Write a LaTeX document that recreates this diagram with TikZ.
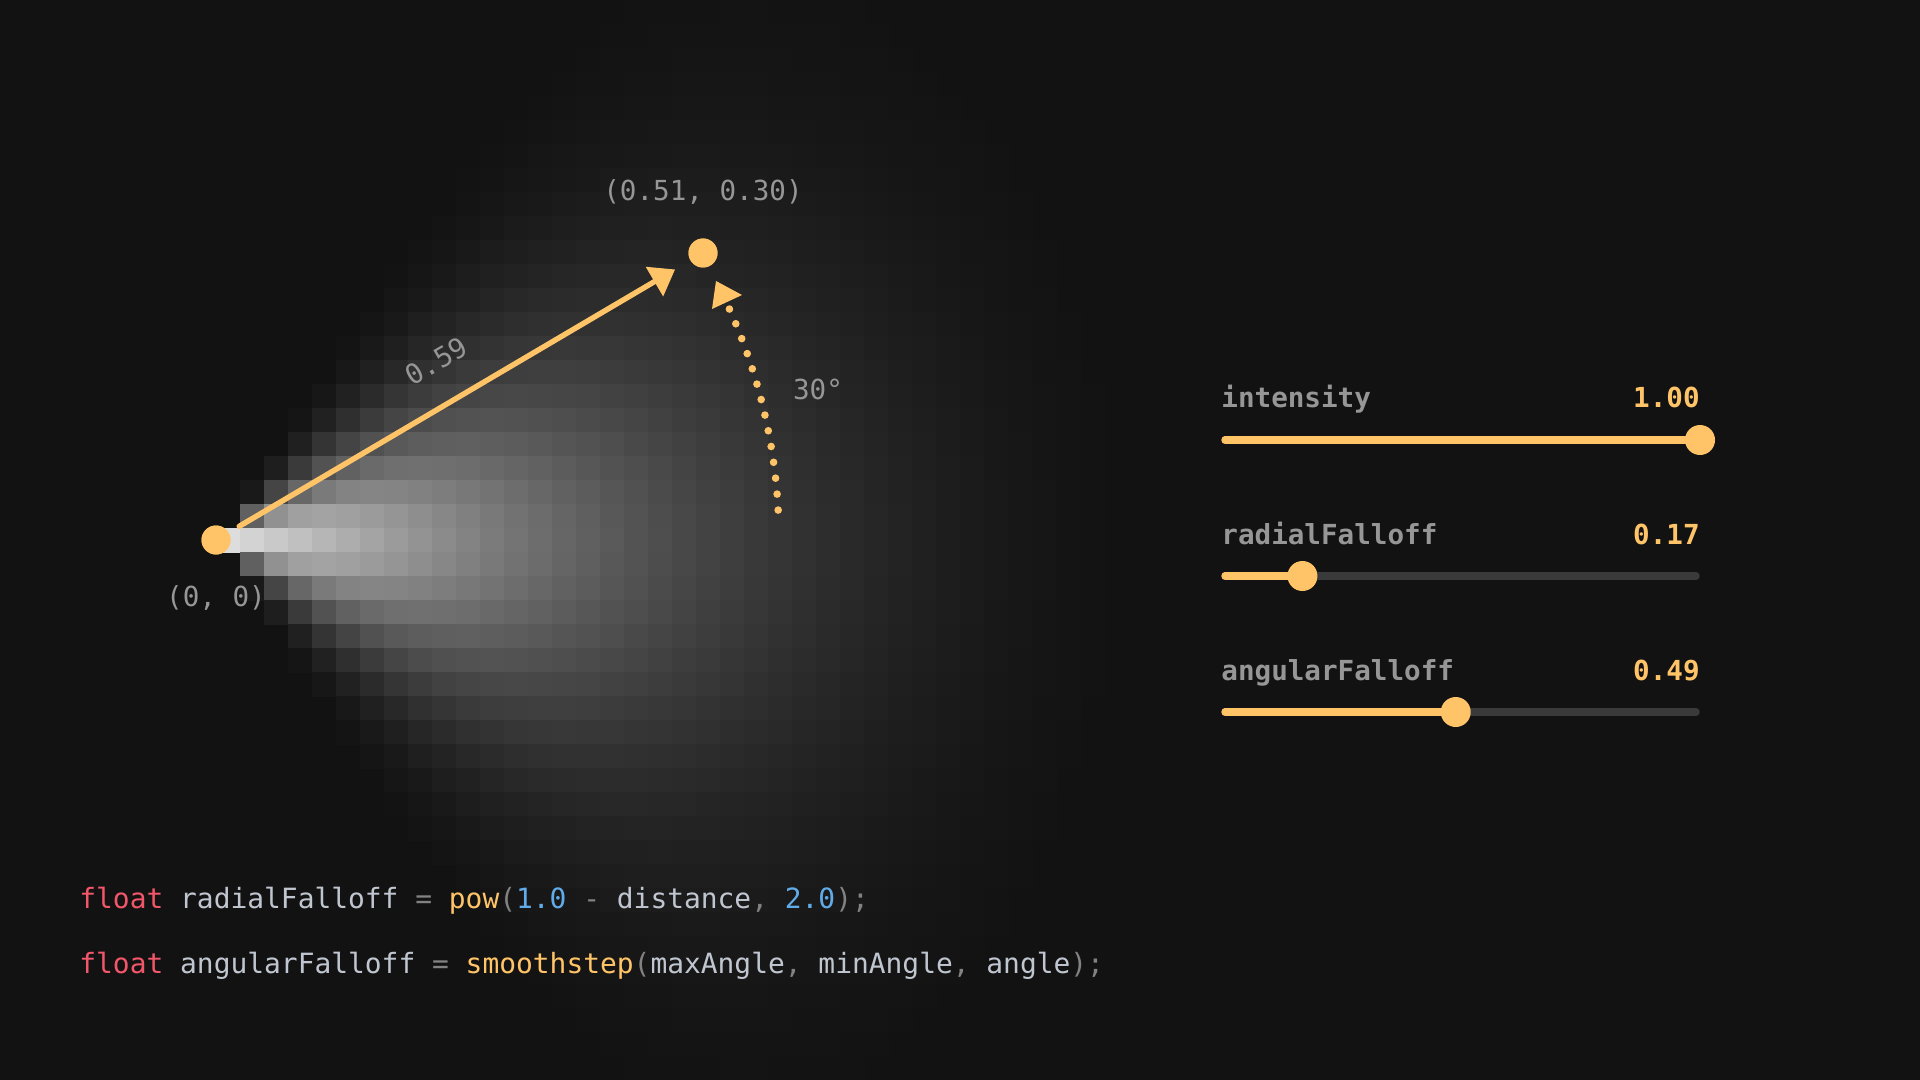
\documentclass[tikz,border=0pt]{standalone}
\usepackage{fontspec}
\setmonofont{DejaVu Sans Mono}
\usepackage{xcolor}
\usetikzlibrary{arrows.meta}
\definecolor{bgdark}{RGB}{18, 18, 18}
\definecolor{accentamber}{RGB}{255, 196, 104}
\definecolor{trackgray}{RGB}{58, 58, 58}
\definecolor{labelgray}{RGB}{150, 150, 150}
\definecolor{codetext}{RGB}{192, 198, 208}
\definecolor{codekw}{RGB}{242, 86, 106}
\definecolor{codenum}{RGB}{97, 172, 232}
\definecolor{codepunct}{RGB}{130, 130, 130}

% code tokens
\newcommand{\tokkw}[1]{\textcolor{codekw}{#1}}
\newcommand{\tokfn}[1]{\textcolor{accentamber}{#1}}
\newcommand{\toknum}[1]{\textcolor{codenum}{#1}}
\newcommand{\tokpun}[1]{\textcolor{codepunct}{#1}}

\begin{document}
\begin{tikzpicture}[x=0.5pt,y=-0.5pt,
    dot/.style={circle,fill=accentamber,inner sep=0pt,minimum size=14.5pt},
    knob/.style={circle,fill=accentamber,inner sep=0pt,minimum size=15pt},
    coordlbl/.style={text=labelgray,font=\ttfamily\fontsize{13.8pt}{16pt}\selectfont,inner sep=0pt},
    sliderlbl/.style={text=labelgray,font=\ttfamily\bfseries\fontsize{13.8pt}{16pt}\selectfont,inner sep=0pt},
    sliderval/.style={sliderlbl,text=accentamber},
    codeline/.style={text=codetext,font=\ttfamily\fontsize{13.95pt}{16pt}\selectfont,inner sep=0pt,anchor=base west},
    vec/.style={accentamber,line width=2.7pt,line cap=round,shorten <=6pt,shorten >=8.75pt,-{Triangle[length=12pt,width=16.5pt]}},
    dotarc/.style={accentamber,line width=3.8pt,line cap=round,dash pattern=on 0pt off 8pt},
    trackbg/.style={trackgray,line width=3.7pt,line cap=round},
    trackfill/.style={accentamber,line width=3.7pt,line cap=round}]

    \useasboundingbox (0,0) rectangle (1920,1080);
    \fill[bgdark] (0,0) rectangle (1920,1080);

    % Pixel grid of the light: intensity * radial * angular falloff
    \foreach \col in {9,...,49} {
        \foreach \row in {0,...,44} {
            \pgfmathsetmacro{\cx}{24*\col+12-216}
            \pgfmathsetmacro{\cy}{528-24*\row}
            \pgfmathsetmacro{\dist}{min(veclen(\cx,\cy)/955,1)}
            \pgfmathsetmacro{\ang}{abs(atan2(\cy,\cx))}
            \pgfmathsetmacro{\tcl}{max(0,min(1,(60-\ang)/60))}
            \pgfmathsetmacro{\glow}{88*(1-\dist)*(1-\dist)*\tcl*\tcl*(3-2*\tcl)}
            \ifdim\glow pt>0.4pt\relax
                \fill[white!\glow!bgdark] (24*\col,24*\row) rectangle ++(24.5,24.5);
            \fi
        }
    }

    % Light origin and sample point
    \node[dot] (origin) at (216,540) {};
    \node[dot] (sample) at (703,253) {};
    \draw[vec] (origin) -- (sample);
    \node[dot] at (origin) {};
    \node[dot] at (sample) {};

    \node[coordlbl] (originlbl) at ([yshift=-29pt]origin.center) {(0, 0)};
    \node[coordlbl] (samplelbl) at ([yshift=30.5pt]sample.center) {(0.51, 0.30)};
    \node[coordlbl,rotate=30] (distlbl) at (436,361) {0.59};

    % Angle marker
    \draw[dotarc] ([shift={(3.05:281.5pt)}]origin.center) arc[start angle=3.05, end angle=24.25, radius=281.5pt];
    \fill[accentamber] (716,281) -- (742,295) -- (712,309) -- cycle;
    \node[coordlbl] (anglelbl) at (818,389) {30°};

    % Sliders
    \foreach \name/\val [count=\k] in {intensity/1.00, radialFalloff/0.17, angularFalloff/0.49} {
        \pgfmathsetmacro{\ty}{440+136*(\k-1)}
        \pgfmathsetmacro{\knobx}{1221+479*\val}
        \coordinate (trackL\k) at (1225,\ty);
        \coordinate (trackR\k) at (1696,\ty);
        \coordinate (knobpos\k) at (\knobx,\ty);
        \node[sliderlbl,anchor=base west] (lbl\k) at (1221,\ty-32) {\name};
        \node[sliderval,anchor=base east] (val\k) at (1700,\ty-32) {\val};
        \draw[trackbg] (trackL\k) -- (trackR\k);
        \draw[trackfill] (trackL\k) -- (knobpos\k);
        \node[knob] (knob\k) at (knobpos\k) {};
    }

    % Shader code
    \node[codeline] (code1) at (79,908) {\tokkw{float} radialFalloff \tokpun{=} \tokfn{pow}\tokpun{(}\toknum{1.0} \tokpun{-} distance\tokpun{,} \toknum{2.0}\tokpun{);}};
    \node[codeline] (code2) at (79,973) {\tokkw{float} angularFalloff \tokpun{=} \tokfn{smoothstep}\tokpun{(}maxAngle\tokpun{,} minAngle\tokpun{,} angle\tokpun{);}};
\end{tikzpicture}
\end{document}
